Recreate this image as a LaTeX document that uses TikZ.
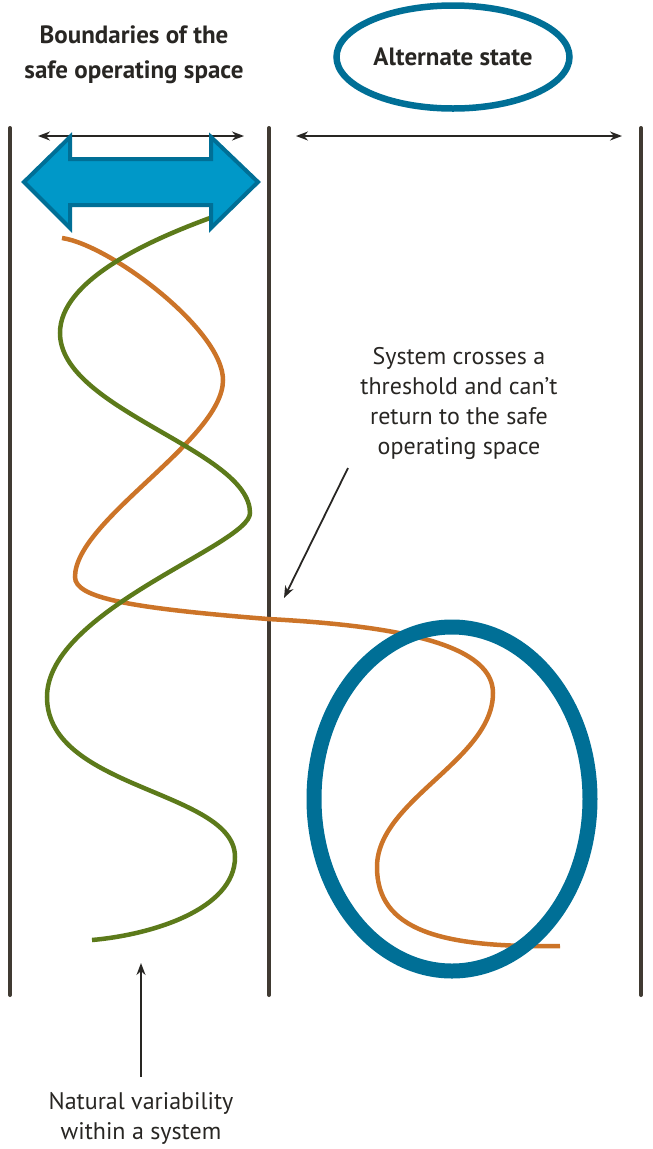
\documentclass[tikz,border=0pt]{standalone}
\usepackage{fontspec}
\setmainfont{PT Sans}
\usetikzlibrary{positioning,calc,arrows.meta,shapes.geometric}
\tikzset{>={Stealth[length=12pt,width=9pt]}}
\definecolor{wall}{RGB}{64,58,50}
\definecolor{ink}{RGB}{40,38,35}
\definecolor{rust}{RGB}{204,116,40}
\definecolor{moss}{RGB}{92,122,26}
\definecolor{sky}{RGB}{0,152,200}
\definecolor{deep}{RGB}{0,111,150}
\tikzset{
  wallline/.style={wall,line width=4pt,line cap=round},
  span/.style={<->,ink,line width=1.8pt},
  pointer/.style={->,ink,line width=1.8pt},
  label/.style={ink,align=center,font=\fontsize{24}{30}\selectfont},
  heading/.style={label,font=\bfseries\fontsize{25}{35}\selectfont},
  path/.style={line width=4.5pt}
}

\begin{document}
\begin{tikzpicture}[x=1pt,y=-1pt]
\useasboundingbox (0,0) rectangle (653,1149);
% walls
\draw[wallline] (10,128) -- (10,995);
\draw[wallline] (269,128) -- (269,995);
\draw[wallline] (641,128) -- (641,995);
\coordinate (safeL) at (38,136);
\coordinate (safeR) at (244,136);
\coordinate (altL) at (296,136);
\coordinate (altR) at (622,136);
\draw[span] (safeL) -- (safeR);
\draw[span] (altL) -- (altR);
% the two trajectories
\draw[path,rust] (62,238) .. controls (110,245) and (223,330) .. (223,380)
  .. controls (223,440) and (75,520) .. (75,577)
  .. controls (75,598) and (130,608) .. (268,619)
  .. controls (380,625) and (493,640) .. (493,693)
  .. controls (493,760) and (377,800) .. (377,867)
  .. controls (377,930) and (440,948) .. (560,946);
\draw[path,moss] (210,218) .. controls (150,240) and (60,280) .. (60,333)
  .. controls (60,410) and (250,450) .. (250,513)
  .. controls (250,545) and (47,610) .. (47,697)
  .. controls (47,790) and (235,790) .. (235,857)
  .. controls (235,910) and (150,935) .. (92,940);
% big arrow
\draw[fill=sky,draw=deep,line width=4pt,line join=miter]
  (24,182) -- (70,137) -- (70,159) -- (211,159) -- (211,137) -- (258,182)
  -- (211,228) -- (211,205) -- (70,205) -- (70,228) -- cycle;
\draw[deep,line width=15pt] (452,799) ellipse[x radius=138,y radius=172];
% labels
\node[heading] (bounds) at (134,55) {Boundaries of the\\safe operating space};
\node[heading,ellipse,draw=deep,line width=6.5pt,minimum width=233pt,minimum height=103pt,inner sep=0pt]
  (alt) at (453,57) {Alternate state};
\node[label] (thr) at (459,403) {System crosses a\\threshold and can’t\\return to the safe\\operating space};
\node[label] (nat) at (141,1118) {Natural variability\\within a system};
\coordinate (thrtail) at (348,468);
\coordinate (thrtip) at (284,598);
\draw[pointer] (thrtail) -- (thrtip);
\coordinate (nattail) at (141,1077);
\coordinate (nattip) at (141,963);
\draw[pointer] (nattail) -- (nattip);
\end{tikzpicture}
\end{document}
